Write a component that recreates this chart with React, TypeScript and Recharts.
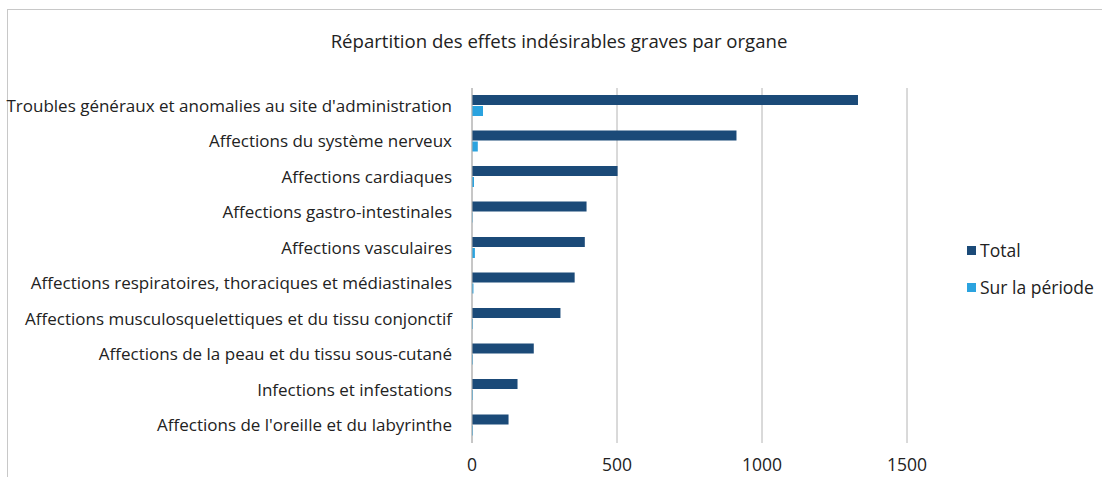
import { Bar, BarChart, CartesianGrid, XAxis, YAxis } from "recharts";

const categories = [
  "Troubles généraux et anomalies au site d'administration",
  "Affections du système nerveux",
  "Affections cardiaques",
  "Affections gastro-intestinales",
  "Affections vasculaires",
  "Affections respiratoires, thoraciques et médiastinales",
  "Affections musculosquelettiques et du tissu conjonctif",
  "Affections de la peau et du tissu sous-cutané",
  "Infections et infestations",
  "Affections de l'oreille et du labyrinthe",
];

const totalValues = [1331, 912, 502, 395, 389, 354, 305, 213, 157, 126];
const periodValues = [38, 20, 7, 2, 10, 5, 3, 3, 3, 3];
const xTicks = [0, 500, 1000, 1500];

const seriesNames = ["Total", "Sur la période"];
const seriesColors = ["#1b4a78", "#2ba3df"];

const data = categories.map((name, i) => ({
  name,
  total: totalValues[i],
  period: periodValues[i],
}));

const font = "'Open Sans', sans-serif";

export default function App() {
  return (
    <div
      style={{
        position: "absolute",
        left: 0,
        top: 0,
        width: 1102,
        height: 477,
        overflow: "hidden",
        background: "#fff",
        fontFamily: font,
        color: "#222",
      }}
    >
      <div
        style={{
          position: "absolute",
          left: 7,
          top: 9,
          width: 1120,
          height: 500,
          border: "1px solid #c8c8c8",
        }}
      />
      <div
        style={{
          position: "absolute",
          left: 0,
          width: 1118,
          top: 28,
          textAlign: "center",
          fontSize: 18.6,
        }}
      >
        Répartition des effets indésirables graves par organe
      </div>
      {/* légende à droite */}
      <div style={{ position: "absolute", left: 967, top: 237, fontSize: 17.5 }}>
        {seriesNames.map((s, i) => (
          <div key={s} style={{ display: "flex", alignItems: "center", height: 26, marginBottom: 11 }}>
            <span style={{ width: 9, height: 9, background: seriesColors[i], marginRight: 4 }} />
            {s}
          </div>
        ))}
      </div>
      <div style={{ position: "absolute", left: 0, top: 0 }}>
        <BarChart
          width={1102}
          height={477}
          data={data}
          layout="vertical"
          margin={{ top: 88, right: 195, left: 0, bottom: 0 }}
          barGap={1}
          barSize={10}
        >
          <CartesianGrid horizontal={false} stroke="#b4b4b4" />
          <XAxis
            type="number"
            domain={[0, 1500]}
            ticks={xTicks}
            axisLine={false}
            tickLine={false}
            tickSize={0}
            tickMargin={16}
            height={34}
            tick={{ fill: "#222", fontSize: 17.5, fontFamily: font }}
          />
          <YAxis
            type="category"
            dataKey="name"
            width={472}
            axisLine={{ stroke: "#b4b4b4" }}
            tickLine={false}
            tickSize={0}
            tickMargin={20}
            interval={0}
            tick={{ fill: "#222", fontSize: 17, fontFamily: font }}
          />
          <Bar dataKey="total" name={seriesNames[0]} fill={seriesColors[0]} isAnimationActive={false} />
          <Bar dataKey="period" name={seriesNames[1]} fill={seriesColors[1]} isAnimationActive={false} />
        </BarChart>
      </div>
    </div>
  );
}
